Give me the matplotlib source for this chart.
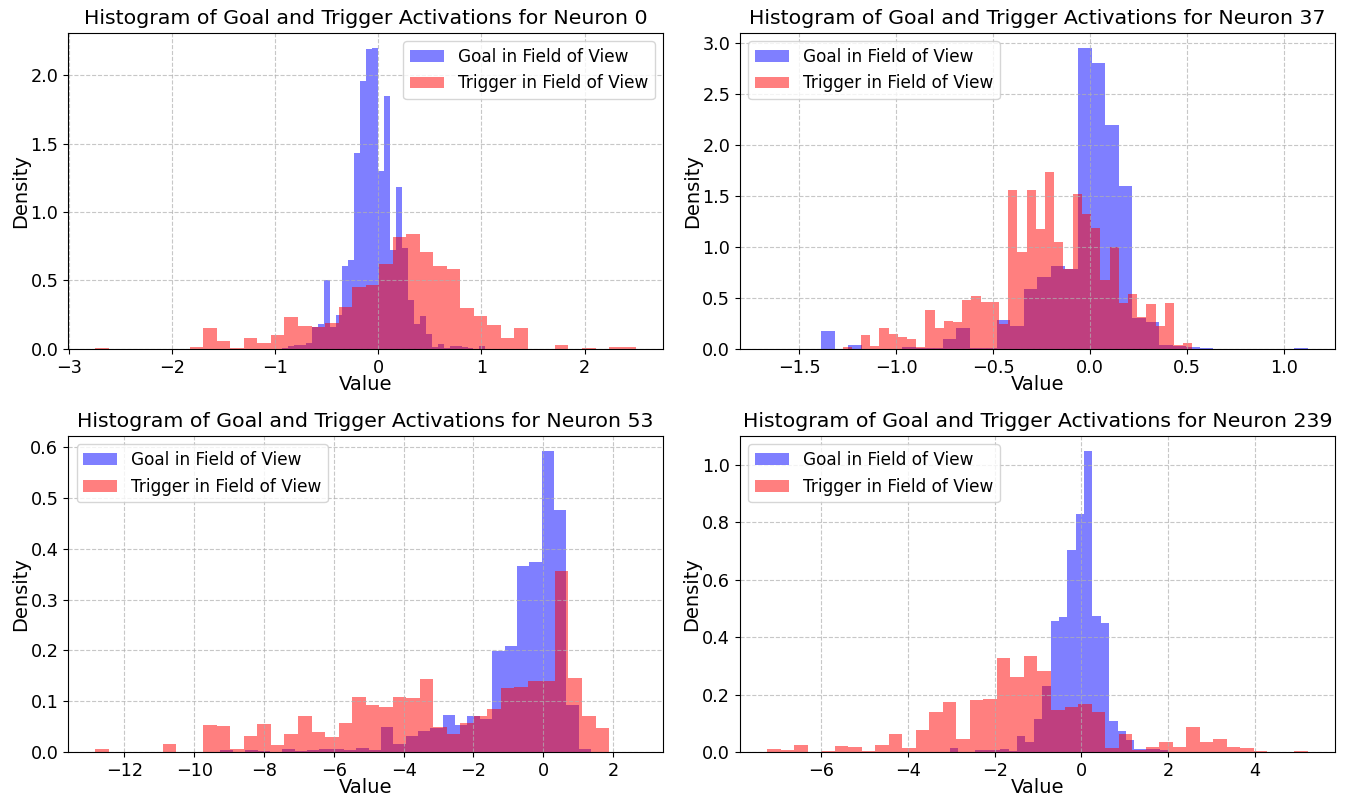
import numpy as np
import matplotlib.pyplot as plt

# 1. Data (density per bin, bins evenly spaced between lo and hi)
neurons = [0, 37, 53, 239]

goal_lo = [-0.933, -1.667, -9.246, -3.035]
goal_hi = [1.387, 1.125, 1.366, 1.996]
goal_0 = [0.01, 0.022, 0.03, 0.03, 0.04, 0.163, 0.183, 0.5, 0.163, 0.249,
          0.607, 0.651, 1.43, 1.96, 2.19, 2.2, 1.30, 1.85, 0.72, 1.18,
          0.737, 0.36, 0.18, 0.24, 0.11, 0.017, 0.037, 0.005, 0.022, 0.022,
          0.017, 0.005, 0.0, 0.022, 0.0, 0.0, 0.0, 0.0, 0.0, 0.0]
goal_37 = [0.0, 0.0, 0.0, 0.0,
           0.177, 0.0, 0.039, 0.0, 0.0, 0.0, 0.016, 0.007, 0.007, 0.098,
           0.206, 0.005, 0.005, 0.285, 0.226, 0.589, 0.703, 0.815, 0.78, 2.95,
           2.80, 2.19, 1.60, 0.304, 0.262, 0.039, 0.03, 0.016, 0.007, 0.0,
           0.0, 0.0, 0.0, 0.0, 0.0, 0.007]
goal_53 = [0.003, 0.0, 0.003, 0.002, 0.0, 0.006, 0.002, 0.003, 0.006, 0.006,
           0.003, 0.008, 0.003, 0.05, 0.016, 0.032, 0.041, 0.048, 0.072, 0.053,
           0.07, 0.065, 0.198, 0.209, 0.367, 0.375, 0.593, 0.477, 0.093, 0.006]
goal_239 = [0.013, 0.0, 0.0, 0.007, 0.007, 0.007, 0.012, 0.005, 0.056, 0.035,
            0.115, 0.23, 0.456, 0.47, 0.703, 0.828, 1.048, 0.473, 0.45, 0.108,
            0.073, 0.042, 0.01, 0.01, 0.01, 0.007]

trig_lo = [-2.746, -1.2765, -12.837, -7.258]
trig_hi = [2.50, 0.528, 2.659, 5.23]
trig_0 = [0.005, 0.0, 0.0, 0.0, 0.0, 0.0, 0.0, 0.012, 0.154, 0.059,
          0.005, 0.08, 0.041, 0.102, 0.234, 0.168, 0.161, 0.19, 0.307, 0.454,
          0.468, 0.622, 0.817, 0.841, 0.705, 0.607, 0.583, 0.295, 0.241, 0.173,
          0.078, 0.156, 0.0, 0.0, 0.029, 0.0, 0.005, 0.0, 0.012, 0.012]
trig_37 = [0.016, 0.0, 0.137, 0.029, 0.209, 0.147, 0.121, 0.098, 0.016, 0.383,
           0.209, 0.275, 0.265, 0.481, 0.52, 0.464, 0.464, 0.245, 1.56, 0.945,
           1.56, 1.17, 1.737, 1.043, 0.78, 1.52, 1.325, 1.18, 0.67, 1.0,
           0.448, 0.536, 0.317, 0.44, 0.226, 0.448, 0.039, 0.056]
trig_53 = [0.005, 0.0, 0.0, 0.0, 0.0, 0.016, 0.0, 0.0, 0.053, 0.051,
           0.006, 0.0315, 0.055, 0.014, 0.035, 0.071, 0.039, 0.03, 0.057, 0.108,
           0.093, 0.089, 0.109, 0.106, 0.144, 0.05, 0.035, 0.057, 0.071, 0.085,
           0.127, 0.128, 0.139, 0.14, 0.357, 0.146, 0.071, 0.048, 0.0, 0.0]
trig_239 = [0.009, 0.007, 0.024, 0.0, 0.002, 0.021, 0.017, 0.003, 0.024, 0.063,
            0.014, 0.077, 0.139, 0.174, 0.045, 0.181, 0.184, 0.327, 0.261, 0.334,
            0.282, 0.146, 0.157, 0.167, 0.139, 0.014, 0.063, 0.007, 0.017, 0.035,
            0.017, 0.087, 0.035, 0.045, 0.017, 0.014, 0.003, 0.0, 0.0, 0.003]

goal_heights = [goal_0, goal_37, goal_53, goal_239]
trig_heights = [trig_0, trig_37, trig_53, trig_239]
legend_loc = ['upper right', 'upper left', 'upper left', 'upper left']

# 2. Plot
fig, axes = plt.subplots(2, 2, figsize=(13.45, 7.99), dpi=100)
plt.subplots_adjust(left=0.0506, right=0.9926, bottom=0.0588, top=0.9591,
                    wspace=0.129, hspace=0.275)

for i, ax in enumerate(axes.flat):
    g = np.array(goal_heights[i])
    t = np.array(trig_heights[i])
    g_edges = np.linspace(goal_lo[i], goal_hi[i], len(g) + 1)
    t_edges = np.linspace(trig_lo[i], trig_hi[i], len(t) + 1)

    ax.hist(g_edges[:-1], bins=g_edges, weights=g, alpha=0.5, color='blue',
            label='Goal in Field of View')
    ax.hist(t_edges[:-1], bins=t_edges, weights=t, alpha=0.5, color='red',
            label='Trigger in Field of View')

    ax.set_title(f'Histogram of Goal and Trigger Activations for Neuron {neurons[i]}', fontsize=14.75)
    ax.set_xlabel('Value', fontsize=14, labelpad=-1.5)
    ax.set_ylabel('Density', fontsize=14, labelpad=0.5)
    ax.tick_params(labelsize=12.7)
    ax.legend(loc=legend_loc[i], fontsize=12.2)
    ax.grid(True, linestyle='--', alpha=0.7)

plt.savefig('out.png', dpi=100)
